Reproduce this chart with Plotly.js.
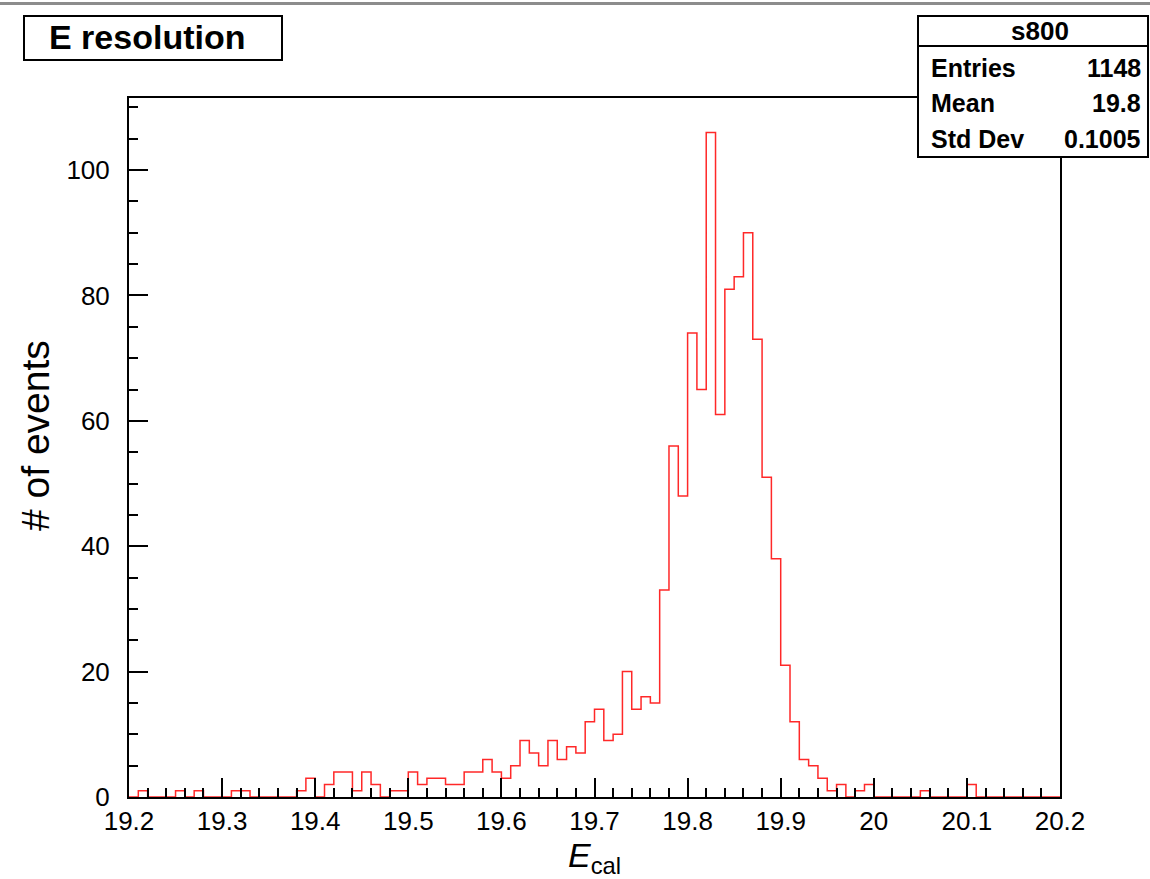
<!DOCTYPE html>
<html>
<head>
<meta charset="utf-8">
<script src="https://cdn.plot.ly/plotly-3.0.1.min.js"></script>
<style>html,body{margin:0;padding:0;background:#fff;}#chart{width:1150px;height:879px;}</style>
</head>
<body>
<div id="chart"></div>
<script>
// ---- data ----
const binLow = 19.2;
const binWidth = 0.01;
const counts = [
  0, 1, 0, 0, 0, 1, 0, 1, 0, 0,
  0, 1, 1, 0, 0, 0, 0, 0, 1, 3,
  0, 2, 4, 4, 1, 4, 2, 0, 1, 1,
  4, 2, 3, 3, 2, 2, 4, 4, 6, 4,
  3, 5, 9, 7, 5, 9, 6, 8, 7, 12,
  14, 9, 10, 20, 14, 16, 15, 33, 56, 48,
  74, 65, 106, 61, 81, 83, 90, 73, 51, 38,
  21, 12, 6, 5, 3, 1, 2, 0, 1, 2,
  0, 0, 0, 0, 0, 1, 0, 0, 0, 0,
  2, 0, 0, 0, 0, 0, 0, 0, 0, 0
];
const xTickVals = [19.2, 19.3, 19.4, 19.5, 19.6, 19.7, 19.8, 19.9, 20.0, 20.1, 20.2];
const xTickText = ["19.2", "19.3", "19.4", "19.5", "19.6", "19.7", "19.8", "19.9", "20", "20.1", "20.2"];
const yTickVals = [0, 20, 40, 60, 80, 100];
const yTickText = ["0", "20", "40", "60", "80", "100"];
const histTitle = "E resolution";
const xTitle = "<i>E</i><sub>cal</sub>";
const yTitle = "# of events";
const statsName = "s800";
const statsLabels = ["Entries", "Mean", "Std Dev"];
const statsValues = ["1148", "19.8", "0.1005"];

// ---- build step histogram from bin edges ----
const edges = counts.map((_, i) => binLow + i * binWidth);
edges.push(binLow + counts.length * binWidth);
const stepY = counts.concat([counts[counts.length - 1]]);

// ---- layout geometry (pixels) ----
const L = 129, R = 1060, T = 98, B = 797, W = 1150, H = 879;
const px = p => (p - L) / (R - L);
const py = p => (B - p) / (B - T);
const FONT = "Liberation Sans, Arial, Helvetica, sans-serif";

const shapes = [
  {type: 'line', xref: 'paper', yref: 'paper', x0: px(0), x1: px(W), y0: py(3.5), y1: py(3.5),
   line: {color: '#8c8c8c', width: 3}},
  {type: 'rect', xref: 'paper', yref: 'paper', x0: px(24), x1: px(282), y0: py(60), y1: py(16),
   line: {color: 'black', width: 2}, fillcolor: 'white'},
  {type: 'rect', xref: 'paper', yref: 'paper', x0: px(918), x1: px(1148), y0: py(157), y1: py(16),
   line: {color: 'black', width: 2}, fillcolor: 'white'},
  {type: 'line', xref: 'paper', yref: 'paper', x0: px(918), x1: px(1148), y0: py(46), y1: py(46),
   line: {color: 'black', width: 2}}
];

const annotations = [
  {xref: 'paper', yref: 'paper', x: px(147), y: py(37), xanchor: 'center', yanchor: 'middle',
   text: '<b>' + histTitle + '</b>', showarrow: false, font: {family: FONT, size: 34, color: 'black'}},
  {xref: 'paper', yref: 'paper', x: px(1040), y: py(31), xanchor: 'center', yanchor: 'middle',
   text: '<b>' + statsName + '</b>', showarrow: false, font: {family: FONT, size: 26, color: 'black'}},
  {xref: 'paper', yref: 'paper', x: px(35), y: py(436), xanchor: 'center', yanchor: 'middle', textangle: -90,
   text: yTitle, showarrow: false, font: {family: FONT, size: 39, color: 'black'}}
];
const rowY = [68, 103, 139];
statsLabels.forEach((lab, i) => {
  annotations.push({xref: 'paper', yref: 'paper', x: px(929), y: py(rowY[i]), xanchor: 'left', yanchor: 'middle',
    text: '<b>' + lab + '</b>', showarrow: false, font: {family: FONT, size: 25, color: 'black'}});
  annotations.push({xref: 'paper', yref: 'paper', x: px(1143), y: py(rowY[i]), xanchor: 'right', yanchor: 'middle',
    text: '<b>' + statsValues[i] + '</b>', showarrow: false, font: {family: FONT, size: 25, color: 'black'}});
});

const trace = {
  type: 'scatter', mode: 'lines', x: edges, y: stepY,
  line: {shape: 'hv', color: 'rgb(255,40,40)', width: 1.5},
  hoverinfo: 'skip', showlegend: false
};

const layout = {
  width: W, height: H,
  margin: {l: L, r: W - R, t: T, b: H - B, pad: 0},
  paper_bgcolor: 'white', plot_bgcolor: 'white',
  showlegend: false,
  font: {family: FONT, color: 'black'},
  xaxis: {
    range: [19.2, 20.2], showgrid: false, zeroline: false,
    showline: true, mirror: true, linecolor: 'black', linewidth: 2,
    ticks: 'inside', ticklen: 19, tickwidth: 2, tickcolor: 'black',
    tickmode: 'array', tickvals: xTickVals, ticktext: xTickText,
    tickfont: {family: FONT, size: 26, color: 'black'},
    minor: {dtick: 0.02, tick0: 19.2, ticks: 'inside', ticklen: 9, tickwidth: 2, tickcolor: 'black'},
    title: {text: xTitle, font: {family: FONT, size: 34, color: 'black'}, standoff: 10}
  },
  yaxis: {
    range: [0, 111.5], showgrid: false, zeroline: false,
    showline: true, mirror: true, linecolor: 'black', linewidth: 2,
    ticks: 'inside', ticklen: 19, tickwidth: 2, tickcolor: 'black',
    tickmode: 'array', tickvals: yTickVals, ticktext: yTickText,
    tickfont: {family: FONT, size: 26, color: 'black'},
    ticklabelstandoff: 12,
    minor: {dtick: 5, tick0: 0, ticks: 'inside', ticklen: 9, tickwidth: 2, tickcolor: 'black'}
  },
  shapes: shapes,
  annotations: annotations
};

Plotly.newPlot('chart', [trace], layout, {staticPlot: true, displayModeBar: false});
</script>
</body>
</html>
